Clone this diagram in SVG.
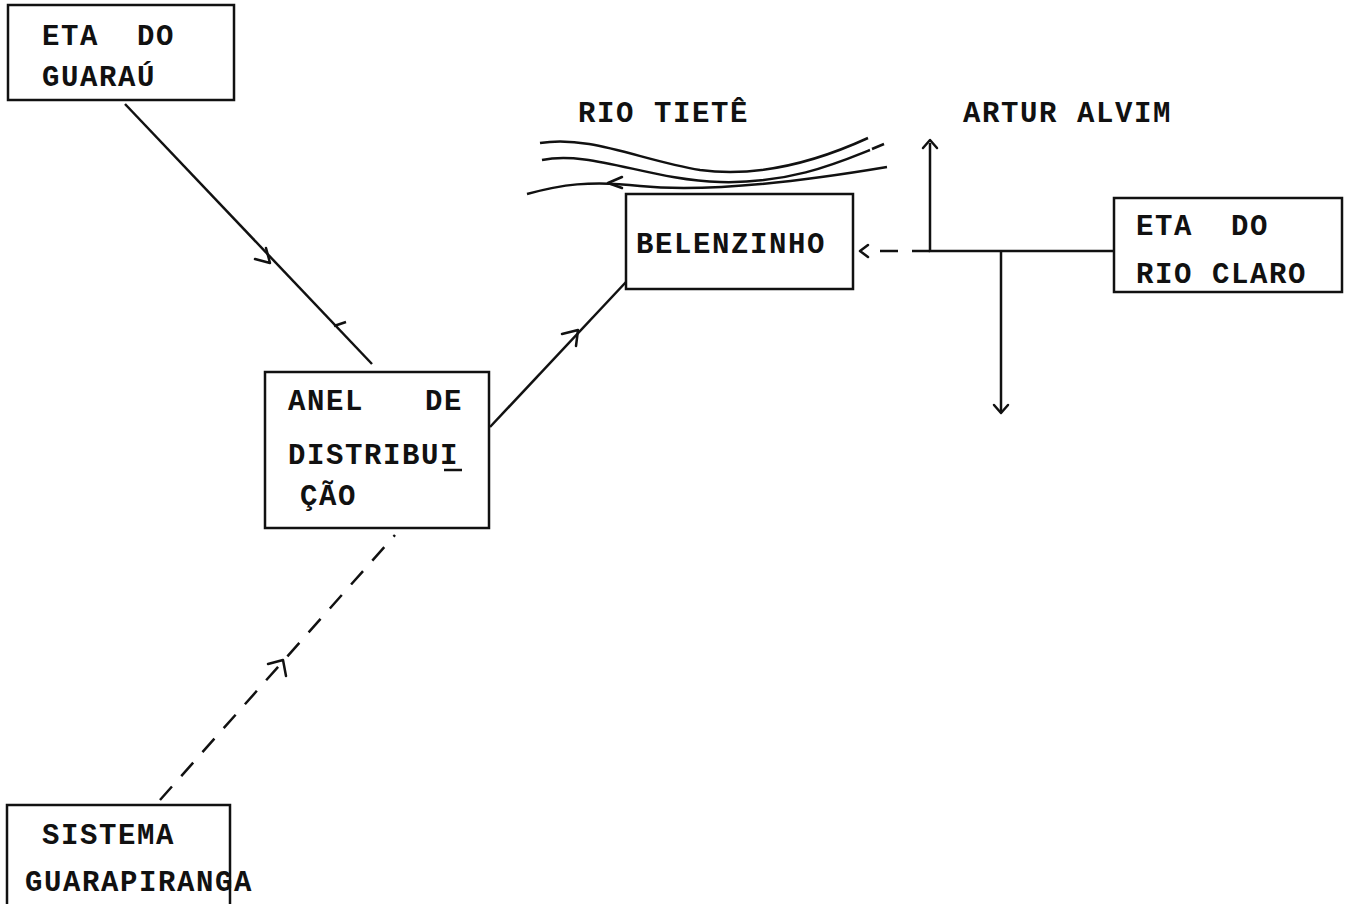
<svg xmlns="http://www.w3.org/2000/svg" width="1353" height="904" viewBox="0 0 1353 904">
<style>
.box{fill:none;stroke:#111;stroke-width:2.5}
.t{font-family:"Liberation Mono","DejaVu Sans Mono",monospace;font-weight:bold;font-size:29px;letter-spacing:1.6px;fill:#111;white-space:pre}
.ln{fill:none;stroke:#111;stroke-width:2.5}
.ds{fill:none;stroke:#111;stroke-width:2.5;stroke-dasharray:18 14}
.ah{fill:none;stroke:#111;stroke-width:2.5;stroke-linecap:round;stroke-linejoin:round}
</style>
<rect width="1353" height="904" fill="#fff"/>
<g id="eta-guarau">
<rect class="box" x="8" y="5" width="226" height="95"/>
<text class="t" x="42" y="45" xml:space="preserve">ETA  DO</text>
<text class="t" x="42" y="86">GUARAÚ</text>
</g>
<g id="rio-tiete">
<text class="t" x="578" y="122">RIO TIETÊ</text>
<path class="ln" d="M540,143 C590,135 640,160 700,170 C760,178 820,160 868,138"/>
<path class="ln" d="M542,160 C590,150 650,180 720,182 C790,184 840,162 870,150" stroke-width="2"/>
<path class="ln" d="M872,149 L884,144" stroke-width="2"/>
<path class="ln" d="M527,194 C560,185 590,180 640,186 C700,192 780,185 887,167" stroke-width="2"/>
<path class="ah" d="M622,177 L608,183 L622,188"/>
</g>
<g id="artur-alvim">
<text class="t" x="963" y="122">ARTUR ALVIM</text>
</g>
<g id="belenzinho">
<rect class="box" x="626" y="194" width="227" height="95"/>
<text class="t" x="636" y="253">BELENZINHO</text>
</g>
<g id="eta-rio-claro">
<rect class="box" x="1114" y="198" width="228" height="94"/>
<text class="t" x="1136" y="235" xml:space="preserve">ETA  DO</text>
<text class="t" x="1136" y="283">RIO CLARO</text>
</g>
<g id="anel">
<rect class="box" x="265" y="372" width="224" height="156"/>
<text class="t" x="288" y="410">ANEL</text>
<text class="t" x="425" y="410">DE</text>
<text class="t" x="288" y="464">DISTRIBUI</text>
<line x1="444" y1="470" x2="462" y2="470" stroke="#111" stroke-width="2.5"/>
<text class="t" x="300" y="505">ÇÃO</text>
</g>
<g id="sistema-guarapiranga">
<path class="box" d="M230,904 L230,805 L7,805 L7,904"/>
<text class="t" x="42" y="844">SISTEMA</text>
<text class="t" x="25" y="891">GUARAPIRANGA</text>
</g>
<g id="connectors">
<line class="ln" x1="125" y1="104" x2="372" y2="364"/>
<path class="ah" d="M255,259 L270,263 L266,248"/>
<line class="ln" x1="334" y1="326" x2="346" y2="322" stroke-width="2"/>
<line class="ln" x1="490" y1="427" x2="626" y2="282"/>
<path class="ah" d="M562,334 L578,330 L576,346"/>
<line class="ds" x1="160" y1="800" x2="395" y2="535"/>
<path class="ah" d="M268,664 L283,660 L286,676"/>
<line class="ds" x1="930" y1="251" x2="866" y2="251" stroke-dasharray="12 12"/>
<path class="ah" d="M868,245 L860,251 L868,257"/>
<polyline class="ln" points="1114,251 930,251 930,143"/>
<path class="ah" d="M923,148 L930,140 L937,148"/>
<line class="ln" x1="1001" y1="251" x2="1001" y2="413"/>
<path class="ah" d="M994,405 L1001,413 L1008,405"/>
</g>
</svg>
